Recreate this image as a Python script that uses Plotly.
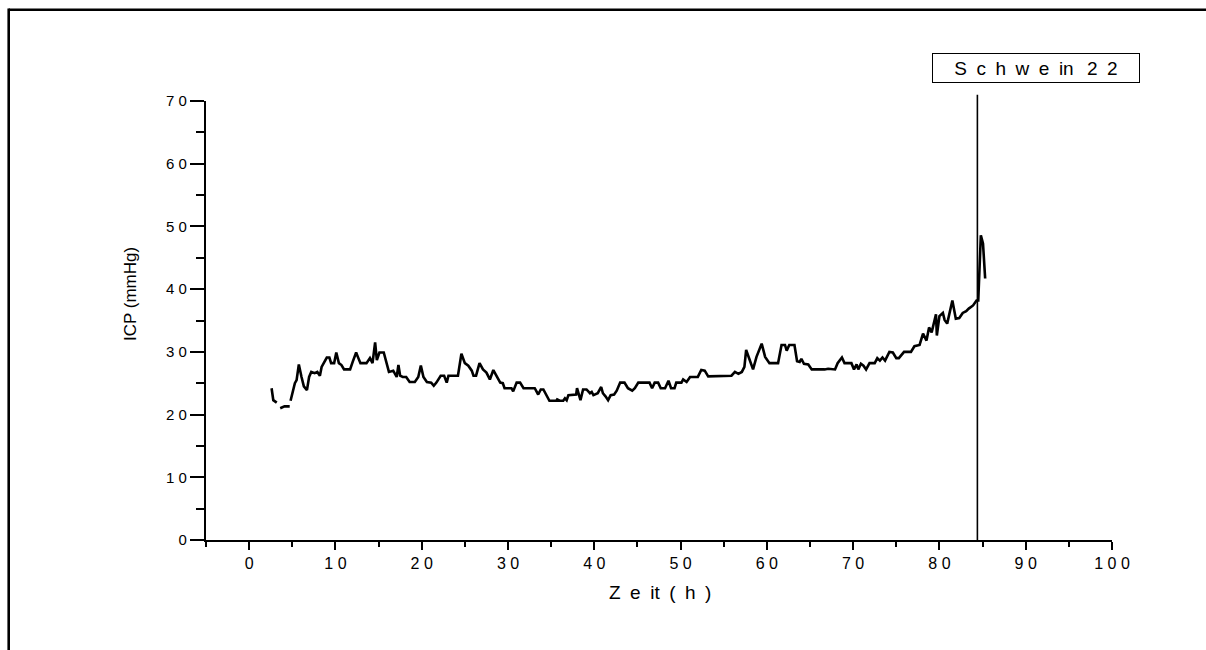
import plotly.graph_objects as go

# ---- data ----
time_h = [2.6, 2.8, 3.2, None, 3.6, 4.1, 4.7, None,
          4.8, 5.1, 5.3, 5.5, 5.76, 6.07, 6.34, 6.7, 6.95, 7.2, 7.6, 7.9, 8.2, 8.4, 8.8, 9.0, 9.3,
          9.5, 9.85, 10.1, 10.4, 10.7, 11.0, 11.7, 12.0, 12.4, 12.6, 12.9, 13.6, 14.0, 14.3, 14.6,
          14.8, 15.1, 15.6, 15.9, 16.2, 16.7, 17.1, 17.3, 17.5, 17.8, 18.2, 18.6, 19.2, 19.6, 19.9,
          20.2, 20.6, 21.1, 21.4, 21.7, 22.2, 22.6, 22.9, 23.1, 24.2, 24.6, 25.0, 25.4, 25.8, 26.0,
          26.3, 26.7, 27.1, 27.5, 27.9, 28.3, 28.7, 29.1, 29.4, 29.6, 30.4, 30.6, 31.0, 31.4, 31.8,
          33.1, 33.5, 33.8, 34.1, 34.5, 34.8, 35.6, 35.7, 36.0, 36.4, 36.6, 36.8, 37.0, 37.9, 38.0,
          38.2, 38.4, 38.7, 39.1, 39.5, 39.7, 39.9, 40.4, 40.8, 41.0, 41.3, 41.6, 41.9, 42.3, 42.6,
          43.0, 43.5, 43.9, 44.4, 44.7, 45.1, 46.4, 46.7, 47.0, 47.4, 47.7, 48.2, 48.6, 48.9, 49.3,
          49.5, 50.1, 50.3, 50.7, 51.1, 52.0, 52.4, 52.8, 53.2, 55.9, 56.3, 56.7, 57.1, 57.4, 57.6,
          58.0, 58.4, 58.8, 59.4, 59.8, 60.1, 60.3, 61.3, 61.7, 62.1, 62.3, 62.6, 63.2, 63.5, 63.8,
          64.0, 64.3, 64.8, 65.2, 66.7, 67.1, 67.9, 68.2, 68.7, 69.0, 69.8, 70.1, 70.4, 70.6, 70.9,
          71.2, 71.5, 71.9, 72.5, 72.8, 73.1, 73.4, 73.7, 74.2, 74.6, 75.0, 75.3, 75.9, 76.7, 77.1,
          77.7, 78.1, 78.5, 78.8, 79.1, 79.3, 79.6, 79.7, 80.0, 80.4, 80.6, 80.9, 81.1, 81.5, 81.9,
          82.3, 82.7, 83.1, 83.4, 83.9, 84.3, 84.5, 84.8, 85.05, 85.3]
icp_mmhg = [24.2, 22.3, 21.9, None, 21.0, 21.3, 21.3, None,
            22.2, 23.7, 25.0, 25.5, 28.0, 26.0, 24.5, 23.9, 26.0, 26.8, 26.6, 26.8, 26.2, 27.6, 28.7, 29.1, 29.1,
            28.2, 28.2, 29.9, 28.2, 27.9, 27.2, 27.2, 28.4, 29.9, 29.2, 28.2, 28.2, 29.0, 28.2, 31.5,
            28.7, 29.9, 29.9, 28.2, 26.8, 27.0, 26.0, 27.9, 26.2, 26.0, 26.0, 25.2, 25.2, 26.0, 27.8,
            26.0, 25.2, 25.1, 24.6, 25.1, 26.2, 26.2, 25.1, 26.2, 26.2, 29.7, 28.2, 27.8, 27.0, 26.2,
            26.2, 28.2, 27.2, 26.7, 25.6, 27.1, 26.0, 25.1, 25.0, 24.2, 24.2, 23.7, 25.1, 25.1, 24.2,
            24.2, 23.2, 24.0, 24.0, 23.1, 22.2, 22.2, 22.4, 22.2, 22.2, 22.6, 22.3, 23.1, 23.2, 24.2,
            23.4, 22.3, 24.0, 24.0, 23.4, 23.6, 23.1, 23.4, 24.4, 23.4, 22.9, 22.3, 23.1, 23.2, 23.8,
            25.1, 25.1, 24.2, 23.8, 24.2, 25.1, 25.1, 24.2, 25.1, 25.1, 24.2, 24.2, 25.4, 24.2, 24.2,
            25.1, 25.1, 25.6, 25.2, 26.0, 26.0, 27.1, 27.0, 26.1, 26.2, 26.8, 26.5, 26.8, 27.6, 30.3,
            28.8, 27.2, 29.2, 31.3, 29.2, 28.5, 28.2, 28.2, 31.1, 31.1, 30.2, 31.1, 31.1, 28.5, 28.4,
            28.9, 28.1, 28.0, 27.2, 27.2, 27.3, 27.2, 28.2, 29.1, 28.2, 28.2, 27.2, 28.0, 27.2, 28.1,
            27.8, 27.2, 28.2, 28.2, 29.0, 28.6, 29.1, 28.6, 30.0, 29.9, 29.0, 29.0, 30.0, 30.0, 30.9,
            31.1, 32.9, 31.8, 33.9, 33.1, 34.2, 36.0, 32.6, 35.7, 36.2, 35.1, 34.5, 35.8, 38.2, 35.3,
            35.4, 36.2, 36.5, 36.9, 37.4, 38.2, 38.2, 48.6, 47.3, 41.7]

marker_time = 84.4          # vertical marker line (h)
marker_top = 71.0           # top of marker line (mmHg)
x_ticks = [0, 10, 20, 30, 40, 50, 60, 70, 80, 90, 100]
y_ticks = [0, 10, 20, 30, 40, 50, 60, 70]
x_range = [-5, 100]
y_range = [0, 70]
label_text = "S\u2002c\u2002h\u2002w\u2002e\u2002in\u2002\u20092\u20022"
x_title = "Z\u2002e\u2002it\u2002(\u2002h\u2002)"
y_title = "ICP (mmHg)"


def spaced(v):
    return " ".join(str(v))


FONT = "Liberation Sans, Arial, sans-serif"

fig = go.Figure()
fig.add_trace(go.Scatter(x=time_h, y=icp_mmhg, mode="lines",
                         line=dict(color="black", width=2.6),
                         connectgaps=False, hoverinfo="skip", showlegend=False))

W, H = 1206, 650
L, R, T, B = 206, 94, 101, 110
pw, ph = W - L - R, H - T - B


def px_x(p):
    return (p - L) / pw


def px_y(p):
    return (H - B - p) / ph


fig.update_layout(
    width=W, height=H,
    margin=dict(l=L, r=R, t=T, b=B, pad=0),
    paper_bgcolor="white", plot_bgcolor="white",
    font=dict(family=FONT, color="black"),
    showlegend=False,
    xaxis=dict(range=x_range, showgrid=False, zeroline=False,
               showline=True, linecolor="black", linewidth=2,
               ticks="outside", ticklen=8, tickwidth=2, tickcolor="black",
               tickvals=x_ticks, ticktext=[spaced(v) for v in x_ticks],
               tickfont=dict(size=16, family=FONT),
               minor=dict(ticks="outside", ticklen=5, tickwidth=2, tickcolor="black",
                          dtick=5, tick0=0, showgrid=False)),
    yaxis=dict(range=y_range, showgrid=False, zeroline=False,
               showline=True, linecolor="black", linewidth=2.3,
               ticks="outside", ticklen=14, tickwidth=1.6, tickcolor="black",
               tickvals=y_ticks, ticktext=[spaced(v) for v in y_ticks],
               tickfont=dict(size=15, family=FONT),
               minor=dict(ticks="outside", ticklen=8, tickwidth=1.6, tickcolor="black",
                          dtick=5, tick0=0, showgrid=False)),
)

# vertical marker line
fig.add_shape(type="line", xref="x", yref="paper",
              x0=marker_time, x1=marker_time, y0=0, y1=marker_top / y_range[1],
              line=dict(color="black", width=1.6))

# outer frame: left edge and top edge only, drawn as separate strokes
fx, fy = px_x(8.7), px_y(9.8)
fig.add_shape(type="line", xref="paper", yref="paper",
              x0=fx, x1=px_x(1100), y0=fy, y1=fy, line=dict(color="black", width=2.6))
fig.add_shape(type="line", xref="paper", yref="paper",
              x0=px_x(1100), x1=px_x(W + 30), y0=fy, y1=fy, line=dict(color="black", width=2.6))
fig.add_shape(type="line", xref="paper", yref="paper",
              x0=fx, x1=fx, y0=px_y(8.5), y1=px_y(H + 30), line=dict(color="black", width=2.6))

# label box
fig.add_annotation(xref="paper", yref="paper", x=px_x(1036), y=px_y(68),
                   xanchor="center", yanchor="middle",
                   text=label_text, showarrow=False,
                   font=dict(size=19, family=FONT),
                   bordercolor="black", borderwidth=1, borderpad=2,
                   width=202, height=24, bgcolor="white")

# axis titles
fig.add_annotation(xref="paper", yref="paper", x=px_x(660), y=px_y(592),
                   xanchor="center", yanchor="middle",
                   text=x_title, showarrow=False, font=dict(size=19, family=FONT))
fig.add_annotation(xref="paper", yref="paper", x=px_x(130), y=px_y(294),
                   xanchor="center", yanchor="middle",
                   text=y_title, showarrow=False, textangle=-90,
                   font=dict(size=17, family=FONT))

fig.write_html("out.html")
